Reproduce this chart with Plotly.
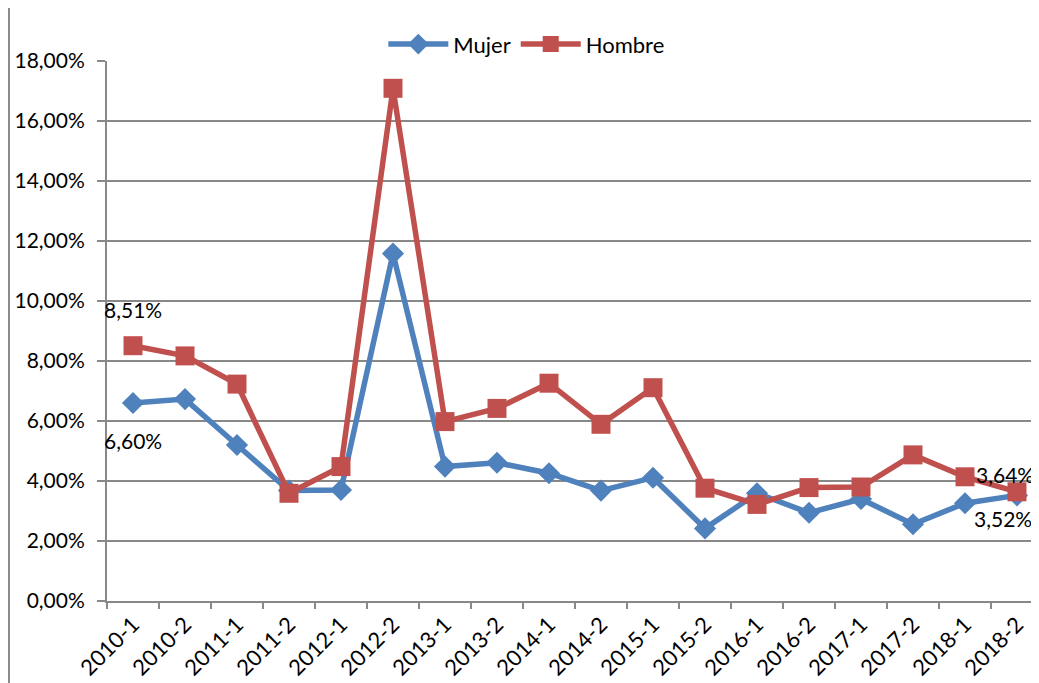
import plotly.graph_objects as go

categories = ["2010-1", "2010-2", "2011-1", "2011-2", "2012-1", "2012-2", "2013-1", "2013-2",
              "2014-1", "2014-2", "2015-1", "2015-2", "2016-1", "2016-2", "2017-1", "2017-2",
              "2018-1", "2018-2"]
mujer = [0.0660, 0.0673, 0.0520, 0.0368, 0.0370, 0.1158, 0.0448, 0.0461, 0.0426, 0.0368,
         0.0411, 0.0242, 0.0359, 0.0294, 0.0340, 0.0256, 0.0326, 0.0352]
hombre = [0.0851, 0.0817, 0.0723, 0.0359, 0.0448, 0.1709, 0.0598, 0.0642, 0.0726, 0.0589,
          0.0711, 0.0376, 0.0322, 0.0378, 0.0380, 0.0487, 0.0414, 0.0364]
y_ticks = [0, 0.02, 0.04, 0.06, 0.08, 0.10, 0.12, 0.14, 0.16, 0.18]

BLUE = "#4F81BD"
RED = "#C0504D"
GRID = "#888888"
FONT = "Lato"

fig = go.Figure()
fig.add_trace(go.Scatter(x=categories, y=mujer, name="Mujer", mode="lines+markers",
                         line=dict(color=BLUE, width=5.5),
                         marker=dict(symbol="diamond", size=17, color=BLUE)))
fig.add_trace(go.Scatter(x=categories, y=hombre, name="Hombre", mode="lines+markers",
                         line=dict(color=RED, width=5.5),
                         marker=dict(symbol="square", size=19, color=RED)))


def fmt(v):
    return f"{v*100:.2f}%".replace(".", ",")


anns = [
    (categories[0], hombre[0], 0, 36),
    (categories[0], mujer[0], 0, -37),
    (categories[-1], hombre[-1], -12, 17),
    (categories[-1], mujer[-1], -14, -23),
]
for xc, yv, dx, dy in anns:
    fig.add_annotation(x=xc, y=yv, xref="x", yref="y", text=fmt(yv), showarrow=False,
                       xshift=dx, yshift=dy, font=dict(family=FONT, size=21, color="black"))

fig.add_shape(type="line", xref="paper", yref="paper", x0=-0.1047, x1=-0.1047, y0=-0.3, y1=1.3,
              line=dict(color="#8c8c8c", width=2))

fig.update_layout(
    width=1039, height=683,
    margin=dict(l=99, r=4, t=53, b=90, autoexpand=False),
    paper_bgcolor="white", plot_bgcolor="white",
    separators=",.",
    font=dict(family=FONT, size=21, color="black"),
    showlegend=True,
    legend=dict(orientation="h", x=0.448, xanchor="center", y=0.992, yanchor="bottom",
                font=dict(family=FONT, size=22), itemwidth=60, bgcolor="rgba(0,0,0,0)"),
    xaxis=dict(type="category", categoryorder="array", categoryarray=categories,
               range=[-0.5, 17.5], tickson="boundaries", ticks="outside", ticklen=6,
               tickcolor=GRID, tickwidth=2, showgrid=False, showline=True, linecolor=GRID,
               linewidth=2, tickangle=-45, tickfont=dict(family=FONT, size=22),
               automargin=False),
    yaxis=dict(range=[0, 0.18], tickvals=y_ticks, tickformat=".2%", showgrid=True,
               gridcolor=GRID, gridwidth=2, ticks="outside", ticklen=8, tickcolor=GRID,
               tickwidth=2, showline=True, linecolor=GRID, linewidth=2, zeroline=False,
               tickfont=dict(family=FONT, size=21), ticklabelstandoff=8, automargin=False),
)

fig.write_html("out.html")
